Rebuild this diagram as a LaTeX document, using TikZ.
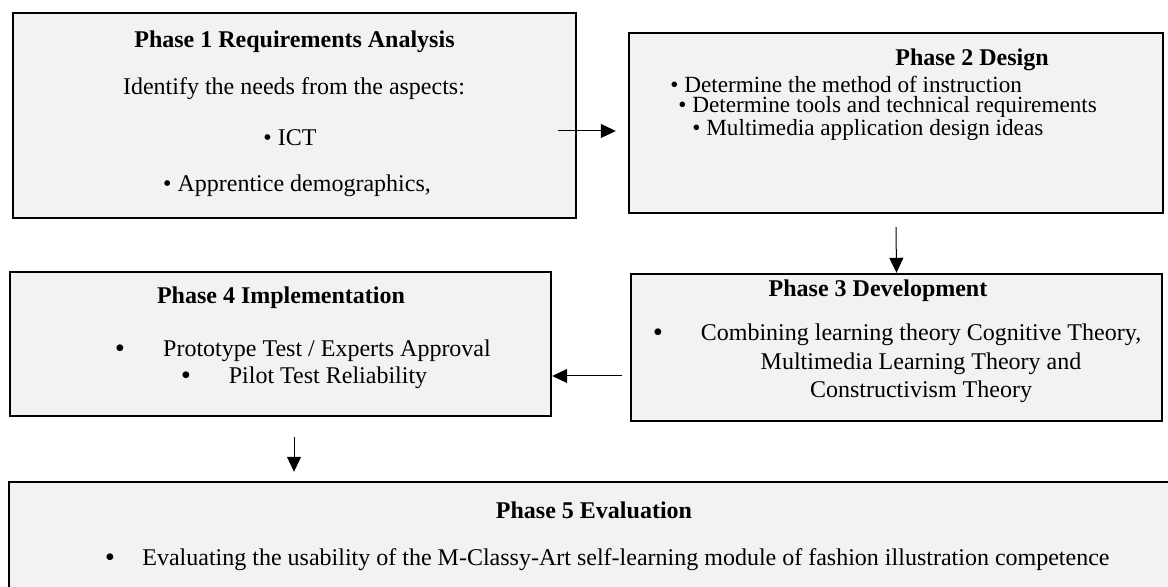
\documentclass[tikz,border=0pt]{standalone}
\usepackage{fontspec}
\setmainfont{Liberation Serif}
\usetikzlibrary{arrows.meta}
\definecolor{boxgray}{RGB}{242,242,242}

\begin{document}
\begin{tikzpicture}[x=0.5pt,y=-0.5pt]
    \tikzstyle{phase}=[draw,fill=boxgray,line width=1.2pt,inner sep=0pt]
    \tikzstyle{head}=[font=\fontsize{12}{14}\selectfont\bfseries,inner sep=0pt]
    \tikzstyle{txt}=[font=\fontsize{12}{14}\selectfont,inner sep=0pt]
    \tikzstyle{small}=[font=\fontsize{11.6}{13}\selectfont,inner sep=0pt]
    \tikzstyle{dot}=[font=\fontsize{12.5}{13}\selectfont\bfseries,inner sep=0pt]
    \tikzstyle{arr}=[-{Triangle[length=7.5pt,width=7pt]},line width=0.5pt]
    \useasboundingbox(0,0)rectangle(1168,587);
    % boxes
    \draw node[phase,minimum width=281.5pt,minimum height=102.5pt](p1)at(294.5,115.5){}
          node[phase,minimum width=267pt,minimum height=90pt](p2)at(896,123){}
          node[phase,minimum width=265.5pt,minimum height=73.5pt](p3)at(896.5,347.5){}
          node[phase,minimum width=270.5pt,minimum height=72pt](p4)at(280.5,344){}
          node[phase,minimum width=583pt,minimum height=60pt](p5)at(592,542){};
    % texts
    \draw node[head](t1)at(294.5,41.5){Phase 1 Requirements Analysis}
          node[txt](l1a)at(294,89){Identify the needs from the aspects:}
          node[txt](l1b)at(290,138){• ICT}
          node[txt](l1c)at(297,186){• Apprentice demographics,};
    \draw node[head](t2)at(972,60){Phase 2 Design}
          node[small,anchor=west](l2a)at(670,84){• Determine the method of instruction}
          node[small,anchor=west](l2b)at(678,107){• Determine tools and technical requirements}
          node[small,anchor=west](l2c)at(692,130){• Multimedia application design ideas};
    \draw node[head](t3)at(878,291){Phase 3 Development}
          node[dot](b3)at(658,335){•}
          node[txt](l3a)at(921,335){Combining learning theory Cognitive Theory,}
          node[txt](l3b)at(921,364){Multimedia Learning Theory and}
          node[txt](l3c)at(921,392){Constructivism Theory};
    \draw node[head](t4)at(281,298){Phase 4 Implementation}
          node[dot](b4a)at(120,351){•}
          node[txt](l4a)at(327,351){Prototype Test / Experts Approval}
          node[dot](b4b)at(186,378){•}
          node[txt](l4b)at(328,378){Pilot Test Reliability};
    \draw node[head](t5)at(594,510){Phase 5 Evaluation}
          node[dot](b5)at(110,560){•}
          node[txt,anchor=west](l5)at(142,560){Evaluating the usability of the M-Classy-Art self-learning module of fashion illustration competence};
    % arrows
    \coordinate(a1)at(558,131);
    \coordinate(a3)at(622,376);
    \coordinate(a4)at(294,437);
    \draw[arr,shorten >=6pt](a1)--(a1-|p2.west);
    \draw[arr]([yshift=-6.5pt]p2.south)--(p3.north);
    \draw[arr](a3)--(a3-|p4.east);
    \draw[arr,shorten >=4.5pt](a4)--(a4|-p5.north);
  \end{tikzpicture}
\end{document}
